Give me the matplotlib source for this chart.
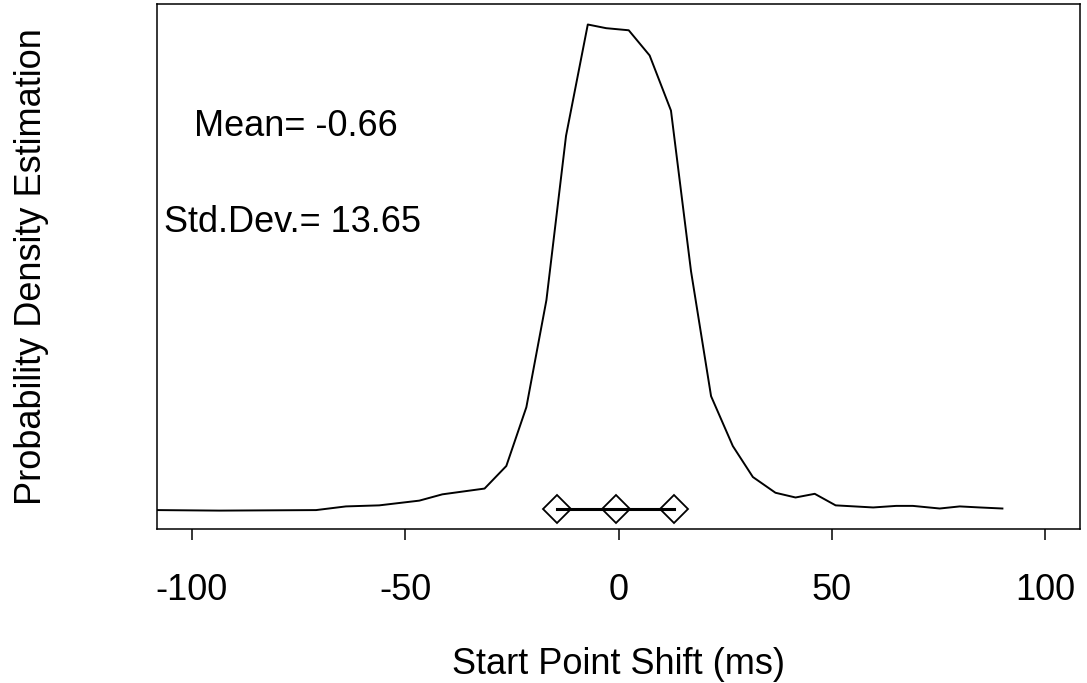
import matplotlib
matplotlib.use("Agg")
import matplotlib.pyplot as plt

plt.rcParams['font.family'] = ['Liberation Sans', 'DejaVu Sans']

# density curve (arbitrary units, peak ~0.96)
shift = [-108.1, -93.6, -70.9, -63.9, -56.1, -46.7, -41.3, -31.4, -26.3, -21.6,
         -16.9, -12.3, -7.2, -2.9, 2.4, 7.3, 12.3, 17.0, 21.7, 26.8,
         31.5, 36.8, 41.5, 46.0, 50.9, 59.7, 65.1, 69.0, 75.3, 80.0,
         84.7, 90.0]
density = [0.036, 0.035, 0.036, 0.043, 0.045, 0.054, 0.066, 0.077, 0.120, 0.232,
           0.436, 0.749, 0.961, 0.954, 0.950, 0.902, 0.797, 0.491, 0.253, 0.158,
           0.099, 0.069, 0.060, 0.067, 0.045, 0.041, 0.044, 0.044, 0.039, 0.043,
           0.041, 0.039]

mean = -0.66
std = 13.65
marker_level = 0.038
xticks = [-100, -50, 0, 50, 100]

fig = plt.figure(figsize=(10.87, 6.83), dpi=100)
ax = fig.add_axes([0.1444, 0.2255, 0.8492, 0.7686])

ax.plot(shift, density, color='black', lw=1.4)

pts = [mean - std, mean, mean + std]
ax.plot(pts, [marker_level] * 3, ls='none', marker='D', ms=14.5,
        mfc='white', mec='black', mew=1.3, zorder=3)
ax.plot([pts[0], pts[-1]], [marker_level] * 2, color='black', lw=2.2, zorder=4)

ax.text(-99.5, 0.749, 'Mean= -0.66', fontsize=26, va='baseline')
ax.text(-106.5, 0.566, 'Std.Dev.= 13.65', fontsize=26, va='baseline')

ax.set_xlim(-108.2, 108.2)
ax.set_ylim(0, 1)
ax.set_xticks(xticks)
ax.set_xticklabels([str(t) for t in xticks])
ax.set_yticks([])
ax.tick_params(axis='x', direction='out', length=8, width=1.1, pad=24, labelsize=26)
for s in ax.spines.values():
    s.set_linewidth(1.1)

ax.set_xlabel('Start Point Shift (ms)', fontsize=26, labelpad=28)
ax.set_ylabel('Probability Density Estimation', fontsize=26, labelpad=78)

fig.savefig('out.png', dpi=100)
